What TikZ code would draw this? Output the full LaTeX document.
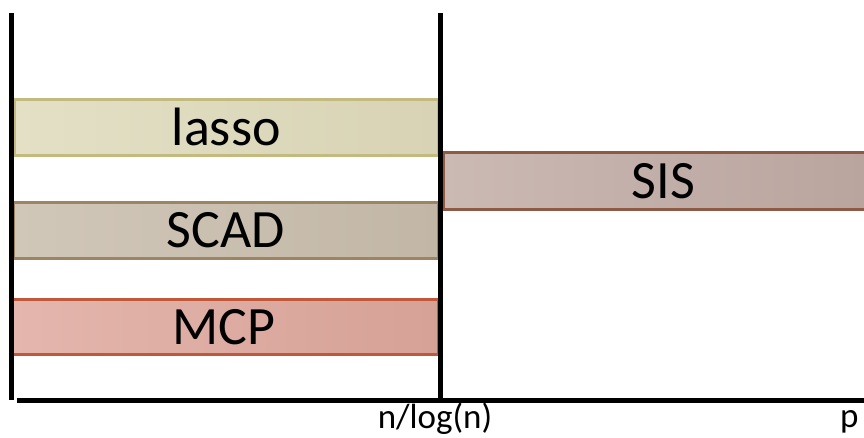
\documentclass[tikz,border=0pt]{standalone}
\usepackage{fontspec}
\setmainfont{Carlito}
\begin{document}
\begin{tikzpicture}[x=1pt,y=-1pt,
  bar/.style={draw, line width=2.5pt, inner sep=0pt, anchor=north west,
    font=\fontsize{54}{54}\selectfont, text=black},
  axis/.style={line width=5pt, black},
  ticklabel/.style={font=\fontsize{35}{35}\selectfont, anchor=base}]
\useasboundingbox (0,0) rectangle (864,437);
\coordinate (o) at (11.5,400);
\coordinate (ltop) at (11.5,13);
\coordinate (mtop) at (440,13);
\coordinate (mbot) at (440,400);
\coordinate (rend) at (870,400);
% bars
\node[bar, draw={rgb,255:red,196;green,186;blue,128}, left color={rgb,255:red,227;green,224;blue,198}, right color={rgb,255:red,216;green,211;blue,180},
  minimum width=424pt, minimum height=56pt] (lasso) at (13,98) {lasso};
\node[bar, draw={rgb,255:red,156;green,133;blue,96}, left color={rgb,255:red,209;green,199;blue,185}, right color={rgb,255:red,194;green,183;blue,166},
  minimum width=425pt, minimum height=56pt] (scad) at (12,201) {SCAD};
\node[bar, draw={rgb,255:red,192;green,88;blue,58}, left color={rgb,255:red,228;green,182;blue,173}, right color={rgb,255:red,214;green,161;blue,150},
  minimum width=428pt, minimum height=55pt] (mcp) at (9,298) {MCP};
\node[bar, draw={rgb,255:red,142;green,90;blue,69}, left color={rgb,255:red,203;green,185;blue,180}, right color={rgb,255:red,185;green,163;blue,157},
  minimum width=440pt, minimum height=57pt] (sis) at (442,151) {SIS};
% axes
\draw[axis] (ltop) -- (o);
\draw[axis] (mtop) -- (mbot);
\draw[axis] ([xshift=5pt]o) -- (rend);
% labels
\node[ticklabel] (nlog) at (435,428) {n/log(n)};
\node[ticklabel, anchor=base east] (p) at (862,427) {p};
\end{tikzpicture}
\end{document}
